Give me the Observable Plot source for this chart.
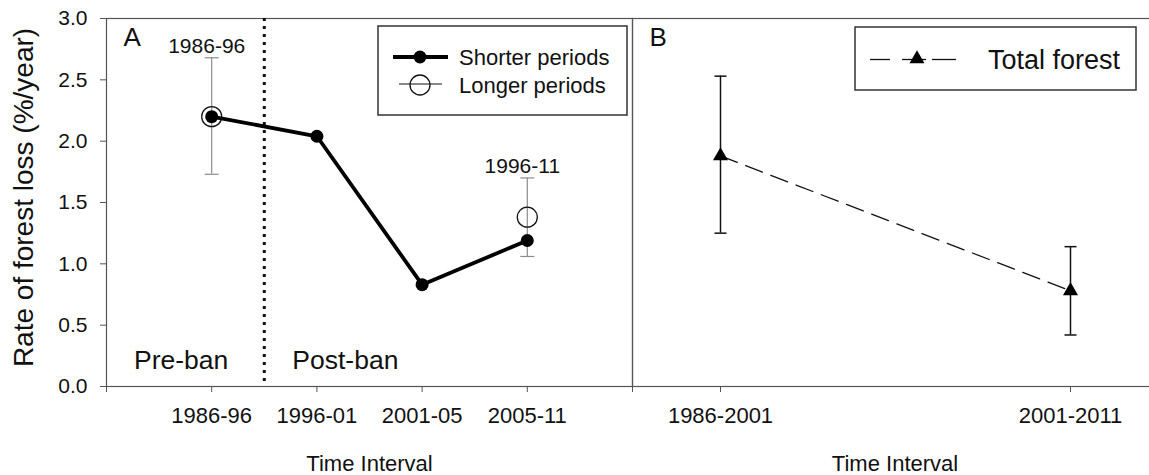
<!DOCTYPE html>
<html><head><meta charset="utf-8">
<script src="https://cdn.jsdelivr.net/npm/d3@7"></script>
<script src="https://cdn.jsdelivr.net/npm/@observablehq/plot@0.6"></script>
<style>
html,body{margin:0;padding:0;background:#fff;}
#wrap{position:relative;width:1149px;height:475px;overflow:hidden;font-family:"Liberation Sans",Arial,sans-serif;}
#wrap svg{position:absolute;top:0;}
</style></head><body><div id="wrap"></div>
<script>
// ---- Panel A data ----
const categoriesA = ["1986-96", "1996-01", "2001-05", "2005-11"];
const shorterValues = [2.20, 2.04, 0.83, 1.19];
const longerCategories = ["1986-96", "2005-11"];
const longerLabels = ["1986-96", "1996-11"];
const longerValues = [2.20, 1.38];
const longerLow = [1.73, 1.06];
const longerHigh = [2.68, 1.70];
const banAfter = "1986-96";
const periodLabels = ["Pre-ban", "Post-ban"];
// ---- Panel B data ----
const categoriesB = ["1986-2001", "2001-2011"];
const totalValues = [1.88, 0.78];
const totalLow = [1.25, 0.42];
const totalHigh = [2.53, 1.14];
// ---- axes ----
const yTicks = [0, 0.5, 1.0, 1.5, 2.0, 2.5, 3.0];
const yTitle = "Rate of forest loss (%/year)";
const xTitle = "Time Interval";

const FONT = "'Liberation Sans', Arial, sans-serif";
const frameColor = "#555";
const errGrey = "#8c8c8c";

const posA = c => categoriesA.indexOf(c) + 1;
const shorter = categoriesA.map((c, i) => ({pos: posA(c), value: shorterValues[i]}));
const longer = longerCategories.map((c, i) => ({pos: posA(c), value: longerValues[i], low: longerLow[i], high: longerHigh[i], label: longerLabels[i]}));
const longerCaps = longer.flatMap(d => [{pos: d.pos, v: d.low}, {pos: d.pos, v: d.high}]);
const boundary = posA(banAfter) + 0.5;

const total = categoriesB.map((c, i) => ({cat: c, value: totalValues[i], low: totalLow[i], high: totalHigh[i]}));
const totalCaps = total.flatMap(d => [{cat: d.cat, v: d.low}, {cat: d.cat, v: d.high}]);

const capSymbol = {draw(ctx, size) { const w = Math.sqrt(size / Math.PI); ctx.moveTo(-w, 0); ctx.lineTo(w, 0); }};

const common = {height: 475, marginTop: 18, marginBottom: 89,
  style: {fontFamily: FONT, background: "transparent", color: "#111", overflow: "visible"}};

const plotA = Plot.plot({
  ...common,
  width: 640, marginLeft: 106, marginRight: 8,
  x: {type: "linear", domain: [0, categoriesA.length + 1]},
  y: {domain: [0, 3]},
  marks: [
    Plot.frame({stroke: frameColor, strokeWidth: 1.2}),
    Plot.axisY({ticks: yTicks, tickFormat: d => d.toFixed(1), tickSize: 6, tickPadding: 13, fontSize: 21, stroke: frameColor, label: null}),
    Plot.axisX({ticks: d3.range(0, categoriesA.length + 2), tickFormat: i => categoriesA[i - 1] ?? "", tickSize: 6, tickPadding: 15, fontSize: 22, stroke: frameColor, label: null}),
    Plot.ruleX([boundary], {stroke: "#111", strokeWidth: 3, strokeDasharray: "3,5"}),
    Plot.ruleX(longer, {x: "pos", y1: "low", y2: "high", stroke: errGrey, strokeWidth: 1.2}),
    Plot.dot(longerCaps, {x: "pos", y: "v", symbol: capSymbol, r: 7, stroke: errGrey, strokeWidth: 1.2}),
    Plot.dot(longer, {x: "pos", y: "value", r: 10, stroke: "#111", strokeWidth: 1.3, fill: "none"}),
    Plot.line(shorter, {x: "pos", y: "value", stroke: "#000", strokeWidth: 3.8}),
    Plot.dot(shorter, {x: "pos", y: "value", r: 6.5, fill: "#000"}),
    Plot.text(longer, {x: "pos", y: "high", text: "label", dx: -5, dy: -5, lineAnchor: "bottom", fontSize: 21, fill: "#111"}),
    Plot.text([periodLabels[0]], {x: () => boundary, y: () => 0, text: d => d, textAnchor: "end", dx: -36, dy: -18, lineAnchor: "bottom", fontSize: 26.5, fill: "#111"}),
    Plot.text([periodLabels[1]], {x: () => boundary, y: () => 0, text: d => d, textAnchor: "start", dx: 28, dy: -18, lineAnchor: "bottom", fontSize: 26.5, fill: "#111"}),
    Plot.text(["A"], {frameAnchor: "top-left", text: d => d, textAnchor: "start", dx: 17, dy: 27, lineAnchor: "bottom", fontSize: 26, fill: "#111"}),
    Plot.text([xTitle], {frameAnchor: "bottom", text: d => d, textAnchor: "middle", dy: 84, lineAnchor: "bottom", fontSize: 22, fill: "#111"}),
    Plot.text([yTitle], {frameAnchor: "left", text: d => d, rotate: -90, textAnchor: "middle", dx: -82, dy: -5, lineAnchor: "middle", fontSize: 28, fill: "#111"})
  ]
});

const plotB = Plot.plot({
  ...common,
  width: 600, marginLeft: 32, marginRight: 43,
  x: {type: "point", domain: categoriesB, padding: 0.25},
  y: {domain: [0, 3], axis: null},
  marks: [
    Plot.frame({stroke: frameColor, strokeWidth: 1.2}),
    Plot.axisX({tickSize: 6, tickPadding: 15, fontSize: 22, stroke: frameColor, label: null}),
    Plot.ruleX(total, {x: "cat", y1: "low", y2: "high", stroke: "#111", strokeWidth: 1.5}),
    Plot.dot(totalCaps, {x: "cat", y: "v", symbol: capSymbol, r: 6, stroke: "#111", strokeWidth: 1.5}),
    Plot.line(total, {x: "cat", y: "value", stroke: "#111", strokeWidth: 1.3, strokeDasharray: "18,9"}),
    Plot.dot(total, {x: "cat", y: "value", symbol: "triangle", r: 5.6, fill: "#000"}),
    Plot.text(["B"], {frameAnchor: "top-left", text: d => d, textAnchor: "start", dx: 17, dy: 27, lineAnchor: "bottom", fontSize: 26, fill: "#111"}),
    Plot.text([xTitle], {frameAnchor: "bottom", text: d => d, textAnchor: "middle", dy: 84, lineAnchor: "bottom", fontSize: 22, fill: "#111"})
  ]
});

const wrap = document.getElementById("wrap");
plotA.style.left = "0px";
plotB.style.left = "600px";
wrap.appendChild(plotA);
wrap.appendChild(plotB);

// ---- legends (overlay) ----
const leg = d3.select(wrap).append("svg")
  .attr("width", 1149).attr("height", 475)
  .style("left", "0px").style("pointer-events", "none")
  .style("font-family", FONT);

// Legend A
leg.append("rect").attr("x", 378).attr("y", 26).attr("width", 249).attr("height", 89)
  .attr("fill", "#fff").attr("stroke", "#333").attr("stroke-width", 1.5);
leg.append("line").attr("x1", 393).attr("x2", 448).attr("y1", 57).attr("y2", 57).attr("stroke", "#000").attr("stroke-width", 3.8);
leg.append("circle").attr("cx", 420).attr("cy", 57).attr("r", 6.5).attr("fill", "#000");
leg.append("text").attr("x", 459).attr("y", 57).attr("dy", "0.35em").attr("font-size", 22).attr("fill", "#111").text("Shorter periods");
leg.append("line").attr("x1", 399).attr("x2", 442).attr("y1", 84).attr("y2", 84).attr("stroke", "#111").attr("stroke-width", 1);
leg.append("circle").attr("cx", 420).attr("cy", 85).attr("r", 10).attr("fill", "none").attr("stroke", "#111").attr("stroke-width", 1.3);
leg.append("text").attr("x", 459).attr("y", 85).attr("dy", "0.35em").attr("font-size", 22).attr("fill", "#111").text("Longer periods");

// Legend B
leg.append("rect").attr("x", 855).attr("y", 27).attr("width", 281).attr("height", 63)
  .attr("fill", "#fff").attr("stroke", "#333").attr("stroke-width", 1.5);
[[870, 890], [902, 926], [932, 956]].forEach(([a, b]) =>
  leg.append("line").attr("x1", a).attr("x2", b).attr("y1", 59.5).attr("y2", 59.5).attr("stroke", "#111").attr("stroke-width", 1.3));
leg.append("path").attr("transform", "translate(917,59)").attr("d", d3.symbol(d3.symbolTriangle, 97)()).attr("fill", "#000");
leg.append("text").attr("x", 988).attr("y", 59.5).attr("dy", "0.35em").attr("font-size", 27).attr("fill", "#111").text("Total forest");
</script>
</body></html>
